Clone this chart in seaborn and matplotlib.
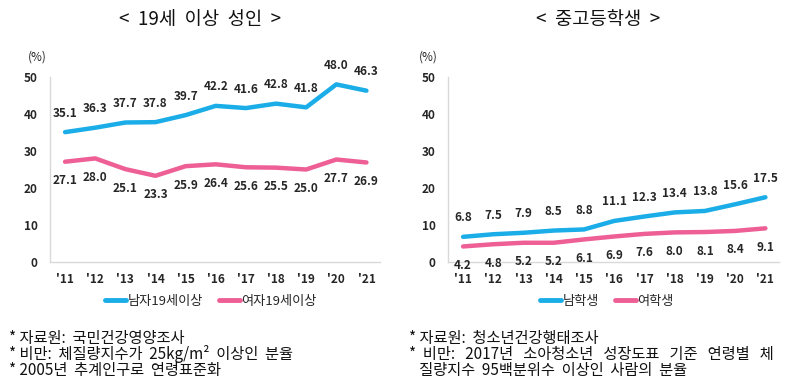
import pandas as pd
import matplotlib
matplotlib.use('Agg')
import matplotlib.pyplot as plt
import seaborn as sns

# data
years = ["'11", "'12", "'13", "'14", "'15", "'16", "'17", "'18", "'19", "'20", "'21"]
adult_male = [35.1, 36.3, 37.7, 37.8, 39.7, 42.2, 41.6, 42.8, 41.8, 48.0, 46.3]
adult_female = [27.1, 28.0, 25.1, 23.3, 25.9, 26.4, 25.6, 25.5, 25.0, 27.7, 26.9]
teen_male = [6.8, 7.5, 7.9, 8.5, 8.8, 11.1, 12.3, 13.4, 13.8, 15.6, 17.5]
teen_female = [4.2, 4.8, 5.2, 5.2, 6.1, 6.9, 7.6, 8.0, 8.1, 8.4, 9.1]

sns.set_style('white')
plt.rcParams['font.family'] = ['Noto Sans CJK KR', 'DejaVu Sans']

BLUE = '#1AADE8'
PINK = '#EE5F96'
GRID = '#D9D9D9'
TXT = '#262626'

fig = plt.figure(figsize=(8, 3.91), dpi=100)


def panel(rect, male, female, male_name, female_name, title, title_x, pct_x, legend_x):
    ax = fig.add_axes(rect)
    x = list(range(len(years)))
    df = pd.DataFrame({'x': x * 2,
                       'v': male + female,
                       's': [male_name] * len(x) + [female_name] * len(x)})
    sns.lineplot(data=df, x='x', y='v', hue='s', palette=[BLUE, PINK],
                 linewidth=3.2, ax=ax, legend=False)
    for xi, v in zip(x, male):
        ax.annotate(f'{v:.1f}', (xi, v), xytext=(0, 9), textcoords='offset points',
                    ha='center', va='bottom', fontsize=8.5, fontweight='bold', color=TXT)
    for xi, v in zip(x, female):
        ax.annotate(f'{v:.1f}', (xi, v), xytext=(0, -9), textcoords='offset points',
                    ha='center', va='top', fontsize=8.5, fontweight='bold', color=TXT)
    ax.set_xlim(-0.5, 10.45)
    ax.set_ylim(0, 50)
    ax.set_yticks([0, 10, 20, 30, 40, 50])
    ax.set_xticks(x)
    ax.set_xticklabels(years)
    ax.tick_params(axis='both', length=0, labelsize=8.5, labelcolor=TXT)
    ax.tick_params(axis='y', pad=9)
    ax.tick_params(axis='x', pad=8)
    for t in ax.get_xticklabels() + ax.get_yticklabels():
        t.set_fontweight('bold')
    ax.set_xlabel('')
    ax.set_ylabel('')
    for s in ['top', 'right']:
        ax.spines[s].set_visible(False)
    for s in ['left', 'bottom']:
        ax.spines[s].set_color(GRID)
        ax.spines[s].set_linewidth(1)
    fig.text(title_x, 1 - 20 / 391, title, ha='center', va='center', fontsize=13.5, color='#111111')
    fig.text(pct_x, 1 - 57 / 391, '(%)', ha='center', va='center', fontsize=8.5, color=TXT)
    h1 = plt.Line2D([], [], color=BLUE, linewidth=3.5)
    h2 = plt.Line2D([], [], color=PINK, linewidth=3.5)
    fig.legend([h1, h2], [male_name, female_name], loc='center',
               bbox_to_anchor=(legend_x, 1 - 301 / 391), ncol=2, frameon=False,
               fontsize=9.5, handlelength=1.6, handletextpad=0.1, columnspacing=1.2)
    return ax


panel([50 / 800, 1 - 262 / 391, 330 / 800, 185 / 391], adult_male, adult_female,
      '남자19세이상', '여자19세이상', '<  19세  이상  성인  >', 200 / 800, 37 / 800, 211 / 800)
panel([448 / 800, 1 - 262 / 391, 331 / 800, 185 / 391], teen_male, teen_female,
      '남학생', '여학생', '<  중고등학생  >', 598 / 800, 428 / 800, 607 / 800)

left_notes = ['* 자료원:  국민건강영양조사',
              '* 비만:  체질량지수가  25kg/m²  이상인  분율',
              '* 2005년  추계인구로  연령표준화']
right_notes = ['* 자료원:  청소년건강행태조사',
               '*  비만:   2017년   소아청소년   성장도표   기준   연령별   체',
               '   질량지수  95백분위수  이상인  사람의  분율']
for i, line in enumerate(left_notes):
    fig.text(9 / 800, 1 - (338 + 16 * i) / 391, line, ha='left', va='center',
             fontsize=11, color='#111111')
for i, line in enumerate(right_notes):
    fig.text(409 / 800, 1 - (338 + 16 * i) / 391, line, ha='left', va='center',
             fontsize=11, color='#111111')

fig.savefig('out.png', dpi=100)
